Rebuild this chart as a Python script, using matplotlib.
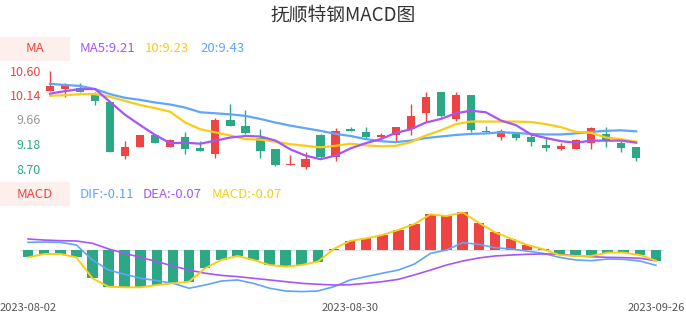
import numpy as np
import matplotlib
matplotlib.use('Agg')
import matplotlib.pyplot as plt
from matplotlib.patches import Rectangle

plt.rcParams['font.family'] = ['Noto Sans CJK SC', 'DejaVu Sans']

# 交易日 2023-08-02 .. 2023-09-26
dates = ['2023-08-02', '2023-08-03', '2023-08-04', '2023-08-07', '2023-08-08', '2023-08-09',
         '2023-08-10', '2023-08-11', '2023-08-14', '2023-08-15', '2023-08-16', '2023-08-17',
         '2023-08-18', '2023-08-21', '2023-08-22', '2023-08-23', '2023-08-24', '2023-08-25',
         '2023-08-28', '2023-08-29', '2023-08-30', '2023-08-31', '2023-09-01', '2023-09-04',
         '2023-09-05', '2023-09-06', '2023-09-07', '2023-09-08', '2023-09-11', '2023-09-12',
         '2023-09-13', '2023-09-14', '2023-09-15', '2023-09-18', '2023-09-19', '2023-09-20',
         '2023-09-21', '2023-09-22', '2023-09-25', '2023-09-26']

opens = [10.22, 10.26, 10.27, 10.15, 10.00, 8.96, 9.13, 9.35, 9.13, 9.33,
         9.10, 9.00, 9.65, 9.53, 9.31, 9.08, 8.78, 8.74, 9.35, 8.93,
         9.48, 9.41, 9.33, 9.35, 9.48, 9.78, 10.19, 9.67, 10.13, 9.43,
         9.33, 9.38, 9.32, 9.16, 9.08, 9.08, 9.21, 9.37, 9.20, 9.12]
closes = [10.30, 10.33, 10.19, 10.02, 9.02, 9.13, 9.35, 9.20, 9.26, 9.09,
          9.04, 9.65, 9.53, 9.39, 9.05, 8.78, 8.80, 8.90, 8.93, 9.43,
          9.43, 9.33, 9.36, 9.51, 9.73, 10.10, 9.73, 10.14, 9.46, 9.42,
          9.44, 9.30, 9.22, 9.11, 9.15, 9.26, 9.49, 9.26, 9.11, 8.91]
highs = [10.60, 10.36, 10.36, 10.19, 10.00, 9.24, 9.35, 9.35, 9.28, 9.42,
         9.24, 9.69, 9.96, 9.84, 9.48, 9.08, 8.97, 9.02, 9.38, 9.49,
         9.52, 9.52, 9.40, 9.52, 9.96, 10.19, 10.19, 10.19, 10.13, 9.53,
         9.48, 9.42, 9.38, 9.33, 9.21, 9.28, 9.52, 9.52, 9.25, 9.12]
lows = [10.21, 10.09, 10.19, 9.94, 9.02, 8.89, 9.13, 9.20, 9.12, 9.00,
        9.04, 8.91, 9.53, 9.38, 8.92, 8.76, 8.78, 8.70, 8.89, 8.86,
        9.43, 9.28, 9.26, 9.23, 9.35, 9.62, 9.70, 9.63, 9.41, 9.42,
        9.26, 9.26, 9.15, 9.05, 9.07, 9.08, 9.09, 9.12, 9.03, 8.85]

ma5 = [10.16, 10.21, 10.25, 10.25, 10.00, 9.75, 9.55, 9.36, 9.20, 9.21,
       9.19, 9.25, 9.31, 9.34, 9.33, 9.25, 9.08, 8.96, 8.89, 8.96,
       9.10, 9.20, 9.28, 9.40, 9.47, 9.60, 9.67, 9.78, 9.83, 9.80,
       9.64, 9.55, 9.37, 9.30, 9.24, 9.21, 9.25, 9.25, 9.25, 9.21]
ma10 = [10.12, 10.13, 10.15, 10.15, 10.10, 10.02, 9.94, 9.88, 9.81, 9.60,
        9.47, 9.41, 9.35, 9.28, 9.27, 9.23, 9.18, 9.15, 9.12, 9.15,
        9.19, 9.16, 9.14, 9.15, 9.22, 9.35, 9.45, 9.57, 9.62, 9.62,
        9.62, 9.62, 9.61, 9.57, 9.51, 9.42, 9.40, 9.31, 9.28, 9.23]
ma20 = [10.35, 10.33, 10.31, 10.25, 10.15, 10.08, 10.04, 9.99, 9.95, 9.89,
        9.80, 9.78, 9.76, 9.73, 9.67, 9.60, 9.54, 9.49, 9.44, 9.38,
        9.34, 9.28, 9.24, 9.22, 9.25, 9.30, 9.33, 9.36, 9.38, 9.39,
        9.41, 9.40, 9.38, 9.37, 9.37, 9.39, 9.42, 9.44, 9.45, 9.43]

dif = [0.050, 0.052, 0.050, 0.033, -0.065, -0.131, -0.159, -0.185, -0.200, -0.218,
       -0.250, -0.229, -0.203, -0.196, -0.218, -0.250, -0.268, -0.272, -0.268, -0.240,
       -0.196, -0.174, -0.152, -0.131, -0.092, -0.022, 0.000, 0.048, 0.037, 0.015,
       0.007, -0.007, -0.022, -0.048, -0.065, -0.070, -0.059, -0.061, -0.072, -0.100]
dea = [0.072, 0.065, 0.061, 0.059, 0.044, 0.007, -0.022, -0.048, -0.076, -0.105,
       -0.131, -0.152, -0.166, -0.174, -0.185, -0.196, -0.207, -0.218, -0.224, -0.229,
       -0.227, -0.218, -0.207, -0.192, -0.163, -0.131, -0.098, -0.072, -0.052, -0.039,
       -0.033, -0.028, -0.026, -0.026, -0.039, -0.044, -0.048, -0.050, -0.054, -0.070]
macd = [-0.048, -0.026, -0.026, -0.048, -0.185, -0.240, -0.244, -0.244, -0.229, -0.218,
        -0.207, -0.120, -0.065, -0.039, -0.065, -0.098, -0.109, -0.098, -0.076, 0.008,
        0.059, 0.076, 0.098, 0.131, 0.170, 0.233, 0.222, 0.246, 0.178, 0.116,
        0.074, 0.033, 0.005, -0.033, -0.039, -0.039, -0.017, -0.017, -0.033, -0.070]

price_ticks = [8.70, 9.18, 9.66, 10.14, 10.60]
price_labels = ['8.70', '9.18', '9.66', '10.14', '10.60']
price_colors = ['#2ca886', '#2ca886', '#999999', '#ee4444', '#ee4444']

RED = '#ee4444'
GREEN = '#2ca886'
PURPLE = '#a855f7'
YELLOW = '#facc15'
BLUE = '#60a5fa'

W, H = 686, 320
fig = plt.figure(figsize=(W / 100, H / 100), dpi=100)


def px_axes(x0, y0, x1, y1):
    return fig.add_axes([x0 / W, 1 - y1 / H, (x1 - x0) / W, (y1 - y0) / H])


x = np.arange(len(dates))
o = np.array(opens)
c = np.array(closes)
up = c >= o
cols = np.where(up, RED, GREEN)

# K线
ax1 = px_axes(42.5, 71, 643.7, 169)
ax1.set_xlim(-0.5, len(dates) - 0.5)
ax1.set_ylim(8.70, 10.60)
ax1.vlines(x, lows, highs, colors=cols, lw=1, clip_on=False, zorder=2)
body = np.maximum(np.abs(c - o), 0.02)
ax1.bar(x, body, bottom=np.minimum(o, c), width=0.55, color=cols, clip_on=False, zorder=3)
ax1.plot(x, ma20, color=BLUE, lw=1.6, clip_on=False, zorder=4)
ax1.plot(x, ma10, color=YELLOW, lw=1.6, clip_on=False, zorder=4)
ax1.plot(x, ma5, color=PURPLE, lw=1.6, clip_on=False, zorder=4)
ax1.set_yticks(price_ticks)
ax1.set_yticklabels(price_labels, fontsize=9)
for lab, col in zip(ax1.get_yticklabels(), price_colors):
    lab.set_color(col)
ax1.tick_params(axis='y', length=0, pad=1)
ax1.set_xticks([])
for s in ax1.spines.values():
    s.set_visible(False)

# MACD
ax2 = px_axes(20, 200, 664, 300)
ax2.set_xlim(-0.5, len(dates) - 0.5)
ax2.set_ylim(-0.327, 0.327)
ax2.axhline(0, color='#e2e2e2', lw=1, zorder=1)
mcols = [RED if v >= 0 else GREEN for v in macd]
ax2.bar(x, macd, width=0.66, color=mcols, zorder=2)
ax2.plot(x, dif, color=BLUE, lw=1.2, zorder=3)
ax2.plot(x, dea, color=PURPLE, lw=1.2, zorder=3)
ax2.plot(x, macd, color=YELLOW, lw=1.4, zorder=4)
ax2.set_yticks([])
ax2.set_xticks([0, 20, len(dates) - 1])
ax2.set_xticklabels([dates[0], dates[20], dates[-1]], fontsize=8, color='#555555')
ax2.tick_params(axis='x', length=0, pad=2)
for s in ax2.spines.values():
    s.set_visible(False)

# 标题和图例
fig.text(0.5, 1 - 15 / H, '抚顺特钢MACD图', ha='center', va='center', fontsize=13.5, color='#333333')

fig.patches.append(Rectangle((0, 1 - 61 / H), 70 / W, 24 / H, transform=fig.transFigure,
                             facecolor='#fdf0ec', edgecolor='none'))
fig.text(35 / W, 1 - 49 / H, 'MA', ha='center', va='center', fontsize=9.5, color=RED)
fig.text(80 / W, 1 - 49 / H, 'MA5:9.21', ha='left', va='center', fontsize=9.5, color=PURPLE)
fig.text(145 / W, 1 - 49 / H, '10:9.23', ha='left', va='center', fontsize=9.5, color=YELLOW)
fig.text(200 / W, 1 - 49 / H, '20:9.43', ha='left', va='center', fontsize=9.5, color=BLUE)

fig.patches.append(Rectangle((0, 1 - 205.7 / H), 70 / W, 24 / H, transform=fig.transFigure,
                             facecolor='#fdf0ec', edgecolor='none'))
fig.text(35 / W, 1 - 194 / H, 'MACD', ha='center', va='center', fontsize=9.5, color=RED)
fig.text(80 / W, 1 - 194 / H, 'DIF:-0.11', ha='left', va='center', fontsize=9.5, color=BLUE)
fig.text(143 / W, 1 - 194 / H, 'DEA:-0.07', ha='left', va='center', fontsize=9.5, color=PURPLE)
fig.text(212 / W, 1 - 194 / H, 'MACD:-0.07', ha='left', va='center', fontsize=9.5, color=YELLOW)

fig.savefig('out.png', dpi=100)
